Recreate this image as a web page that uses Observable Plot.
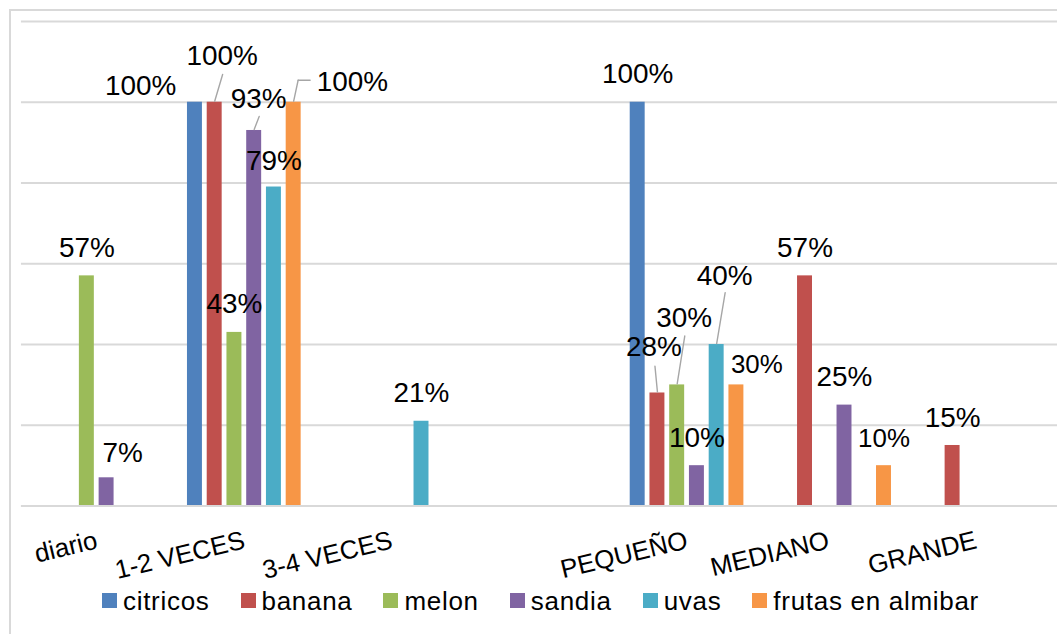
<!DOCTYPE html>
<html>
<head>
<meta charset="utf-8">
<script src="https://cdn.jsdelivr.net/npm/d3@7"></script>
<script src="https://cdn.jsdelivr.net/npm/@observablehq/plot@0.6"></script>
<style>
  html, body { margin: 0; padding: 0; background: #fff; overflow: hidden; }
  #wrap { position: relative; width: 1057px; height: 634px; overflow: hidden;
          font-family: "Liberation Sans", Arial, sans-serif; }
  #border { position: absolute; left: 9px; top: 9px; width: 1100px; height: 700px;
            border: 2px solid #d9d9d9; box-sizing: border-box; }
  #chart { position: absolute; left: 0; top: 0; }
  #legend { position: absolute; left: 102px; top: 587.5px; display: flex; align-items: center;
            font-size: 26px; letter-spacing: 0.7px; line-height: 26px; color: #000; white-space: nowrap; }
  #legend .item { display: flex; align-items: center; margin-right: 31px; }
  #legend .sw { width: 15px; height: 15px; margin-right: 6px; }
</style>
</head>
<body>
<div id="wrap">
  <div id="border"></div>
  <div id="chart"></div>
  <div id="legend"></div>
</div>
<script>
// Categories (the blank one separates frequency from size groups)
const categories = ["diario", "1-2 VECES", "3-4 VECES", "", "PEQUEÑO", "MEDIANO", "GRANDE"];
const series = ["citricos", "banana", "melon", "sandia", "uvas", "frutas en almibar"];

// Percentages per series, one entry per category (null = no bar)
const citricos = [null, 100, null, null, 100, null, null];
const banana   = [null, 100, null, null, 28, 57, 15];
const melon    = [57, 43, null, null, 30, null, null];
const sandia   = [7, 93, null, null, 10, 25, null];
const uvas     = [null, 79, 21, null, 40, null, null];
const frutas   = [null, 100, null, null, 30, 10, null];

const yTicks = [0, 20, 40, 60, 80, 100, 120];

const seriesValues = [citricos, banana, melon, sandia, uvas, frutas];
const colors = ["#4F81BD", "#C0504D", "#9BBB59", "#8064A2", "#4BACC6", "#F79646"];

// Long-format table built from the arrays above
const rows = [];
series.forEach((s, si) => {
  seriesValues[si].forEach((v, ci) => {
    if (v != null) rows.push({cat: categories[ci], series: s, value: v});
  });
});

// Horizontal offset of each series' bar inside its category
const slot = 19.8;
const seriesDx = s => (series.indexOf(s) - 2.5) * slot;

// Hand-placed data labels: [dx, dy] in pixels from the default spot above the bar
const labelNudge = {
  "diario|sandia": [16, 3],
  "1-2 VECES|citricos": [-54.5, 12],
  "1-2 VECES|banana": [7.5, -18],
  "1-2 VECES|sandia": [4.5, -4],
  "1-2 VECES|uvas": [0, 2],
  "1-2 VECES|frutas en almibar": [59, 8],
  "PEQUEÑO|banana": [-3.5, -18],
  "PEQUEÑO|melon": [7, -39],
  "PEQUEÑO|uvas": [8, -41],
  "PEQUEÑO|frutas en almibar": [20.5, 7]
};
const smallLabels = new Set(["PEQUEÑO|frutas en almibar", "MEDIANO|frutas en almibar"]);

// Leader lines for moved labels: category, series, length, angle, start offset
const leaders = [
  ["1-2 VECES", "banana", 28, 16.5, 0, -1],
  ["1-2 VECES", "sandia", 14, 21, 0, -1],
  ["1-2 VECES", "frutas en almibar", 21.5, 12, 0, -1],
  ["1-2 VECES", "frutas en almibar", 12, 90, 4.5, -22],
  ["PEQUEÑO", "banana", 26, -5.5, 0, -1],
  ["PEQUEÑO", "melon", 48.6, 9, 0, -1],
  ["PEQUEÑO", "uvas", 51.7, 9.5, 0, -1]
];
const leaderShape = {
  draw(context, l) { context.moveTo(0, 0); context.lineTo(0, -l); }
};

// Small horizontal shifts of the rotated category labels
const categoryDx = {"MEDIANO": -6, "GRANDE": -6};

const key = r => r.cat + "|" + r.series;
const font = "Liberation Sans, Arial, sans-serif";

const chart = Plot.plot({
  width: 1060,
  height: 585,
  marginLeft: 21,
  marginRight: 0,
  marginTop: 21,
  marginBottom: 78,
  x: {domain: categories, paddingInner: 0.899, paddingOuter: 0.4495, axis: null},
  y: {domain: [0, 120], axis: null},
  style: {fontFamily: font, background: "transparent", overflow: "visible"},
  marks: [
    Plot.gridY(yTicks, {stroke: "#d9d9d9", strokeOpacity: 1, strokeWidth: 2}),
    ...series.map((s, i) =>
      Plot.barY(rows.filter(r => r.series === s), {
        x: "cat", y: "value", fill: colors[i], dx: seriesDx(s)
      })
    ),
    Plot.ruleY([0], {stroke: "#d9d9d9", strokeWidth: 2}),
    ...leaders.map(([cat, s, len, angle, sx, sy]) => {
      const r = rows.find(d => d.cat === cat && d.series === s);
      return Plot.vector([r], {
        x: "cat", y: "value", dx: seriesDx(s) + sx, dy: sy,
        length: len, rotate: angle, anchor: "start", shape: leaderShape,
        stroke: "#a6a6a6", strokeWidth: 1.4, fill: "none"
      });
    }),
    ...rows.map(r => {
      const [nx, ny] = labelNudge[key(r)] || [0, 0];
      return Plot.text([r], {
        x: "cat", y: "value", text: d => d.value + "%",
        dx: seriesDx(r.series) + nx, dy: -19 + ny,
        lineAnchor: "bottom", fill: "#000",
        fontSize: smallLabels.has(key(r)) ? 26 : 28
      });
    }),
    ...categories.map(c => Plot.text([c], {
      x: d => d, frameAnchor: "bottom", dx: categoryDx[c] || 0, dy: 34, rotate: -13.5,
      textAnchor: "end", lineAnchor: "middle", fontSize: 26, fill: "#000"
    }))
  ]
});
document.getElementById("chart").appendChild(chart);

// Legend
const legend = d3.select("#legend");
series.forEach((s, i) => {
  const item = legend.append("div").attr("class", "item");
  item.append("div").attr("class", "sw").style("background", colors[i]);
  item.append("span").text(s);
});
</script>
</body>
</html>
